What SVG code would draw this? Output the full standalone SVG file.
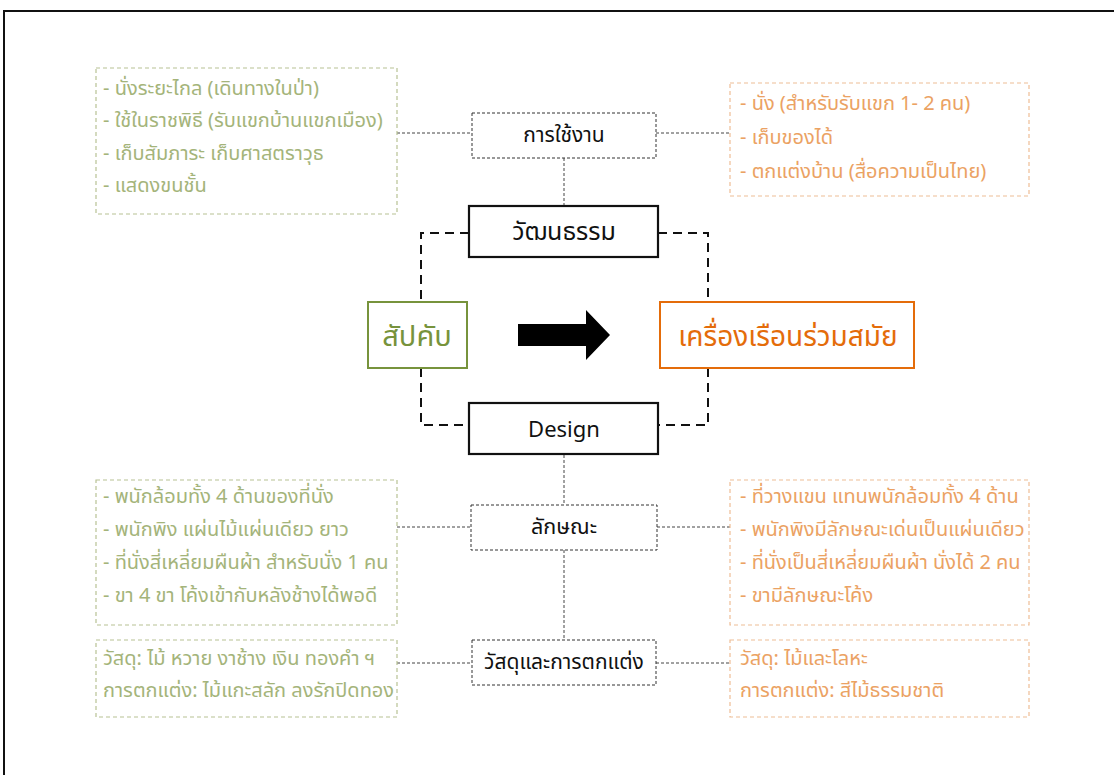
<svg xmlns="http://www.w3.org/2000/svg" width="1114" height="775" viewBox="0 0 1114 775">
<style>
text{font-family:"Noto Sans Thai","Leelawadee UI",Tahoma,"Noto Sans","DejaVu Sans",sans-serif}
.gbox{fill:#fff;stroke:#b8c294;stroke-width:1.2;stroke-dasharray:4 3}
.obox{fill:#fff;stroke:#eebd95;stroke-width:1.2;stroke-dasharray:4 3}
.kbox{fill:#fff;stroke:#333;stroke-width:1;stroke-dasharray:3 2}
.sbox{fill:#fff;stroke:#111;stroke-width:2.2}
.gt{fill:#a4b47a;font-size:20px}
.ot{fill:#eba263;font-size:20px}
.kt{fill:#111;font-size:21px;text-anchor:middle}
.st{fill:#111;text-anchor:middle}
.conn{fill:none;stroke:#444;stroke-width:1;stroke-dasharray:3 2}
.brk{fill:none;stroke:#111;stroke-width:2;stroke-dasharray:9 6}
</style>
<rect width="1114" height="775" fill="#fff"/>
<path d="M4,775 V11 H1114" fill="none" stroke="#111" stroke-width="2"/>

<g id="connectors">
<path class="conn" d="M397,133 H472 M656,133 H730 M564,158 V206"/>
<path class="brk" d="M469,233 H421 V302 M421,368 V425 H469 M658,233 H708 V302 M708,368 V425 H658"/>
<path class="conn" d="M564,455 V505 M397,527 H471 M657,527 H730 M564,550 V640 M397,663 H472 M656,663 H730"/>
<polygon id="arrow" points="518,324 586,324 586,310 610,335 586,360 586,346 518,346" fill="#000"/>
</g>

<g id="usage-old">
<rect class="gbox" x="96" y="68" width="301" height="146"/>
<text class="gt" x="103" y="95">- นั่งระยะไกล (เดินทางในป่า)</text>
<text class="gt" x="103" y="127">- ใช้ในราชพิธี (รับแขกบ้านแขกเมือง)</text>
<text class="gt" x="103" y="160">- เก็บสัมภาระ เก็บศาสตราวุธ</text>
<text class="gt" x="103" y="192">- แสดงขนชั้น</text>
</g>

<g id="usage">
<rect class="kbox" x="472" y="113" width="184" height="45"/>
<text class="kt" x="564" y="142">การใช้งาน</text>
</g>

<g id="usage-new">
<rect class="obox" x="730" y="83" width="299" height="113"/>
<text class="ot" x="740" y="110">- นั่ง (สำหรับรับแขก 1- 2 คน)</text>
<text class="ot" x="740" y="144">- เก็บของได้</text>
<text class="ot" x="740" y="178">- ตกแต่งบ้าน (สื่อความเป็นไทย)</text>
</g>

<g id="culture">
<rect class="sbox" x="469" y="206" width="189" height="51"/>
<text class="st" x="564" y="240" font-size="25">วัฒนธรรม</text>
</g>

<g id="sapkhap">
<rect x="368" y="302" width="99" height="66" fill="#fff" stroke="#77933c" stroke-width="2"/>
<text x="417" y="346" font-size="29" fill="#77933c" text-anchor="middle">สัปคับ</text>
</g>

<g id="modern">
<rect x="660" y="302" width="254" height="66" fill="#fff" stroke="#e46c0a" stroke-width="2"/>
<text x="788" y="346" font-size="28" fill="#e46c0a" text-anchor="middle">เครื่องเรือนร่วมสมัย</text>
</g>

<g id="design">
<rect class="sbox" x="469" y="403" width="189" height="51"/>
<text class="st" x="564" y="437" font-size="22">Design</text>
</g>

<g id="feature">
<rect class="kbox" x="471" y="505" width="186" height="45"/>
<text class="kt" x="564" y="534" textLength="66" lengthAdjust="spacingAndGlyphs">ลักษณะ</text>
</g>

<g id="feature-old">
<rect class="gbox" x="96" y="480" width="301" height="145"/>
<text class="gt" x="103" y="503">- พนักล้อมทั้ง 4 ด้านของที่นั่ง</text>
<text class="gt" x="103" y="536">- พนักพิง แผ่นไม้แผ่นเดียว ยาว</text>
<text class="gt" x="103" y="569">- ที่นั่งสี่เหลี่ยมผืนผ้า สำหรับนั่ง 1 คน</text>
<text class="gt" x="103" y="602">- ขา 4 ขา โค้งเข้ากับหลังช้างได้พอดี</text>
</g>

<g id="feature-new">
<rect class="obox" x="730" y="480" width="299" height="145"/>
<text class="ot" x="740" y="503">- ที่วางแขน แทนพนักล้อมทั้ง 4 ด้าน</text>
<text class="ot" x="740" y="536">- พนักพิงมีลักษณะเด่นเป็นแผ่นเดียว</text>
<text class="ot" x="740" y="569">- ที่นั่งเป็นสี่เหลี่ยมผืนผ้า นั่งได้ 2 คน</text>
<text class="ot" x="740" y="602">- ขามีลักษณะโค้ง</text>
</g>

<g id="material">
<rect class="kbox" x="472" y="640" width="184" height="45"/>
<text class="kt" x="564" y="669">วัสดุและการตกแต่ง</text>
</g>

<g id="material-old">
<rect class="gbox" x="96" y="640" width="301" height="77"/>
<text class="gt" x="103" y="665">วัสดุ: ไม้ หวาย งาช้าง เงิน ทองคำ ฯ</text>
<text class="gt" x="103" y="697">การตกแต่ง: ไม้แกะสลัก ลงรักปิดทอง</text>
</g>

<g id="material-new">
<rect class="obox" x="730" y="640" width="299" height="77"/>
<text class="ot" x="740" y="665">วัสดุ: ไม้และโลหะ</text>
<text class="ot" x="740" y="697">การตกแต่ง: สีไม้ธรรมชาติ</text>
</g>
</svg>
